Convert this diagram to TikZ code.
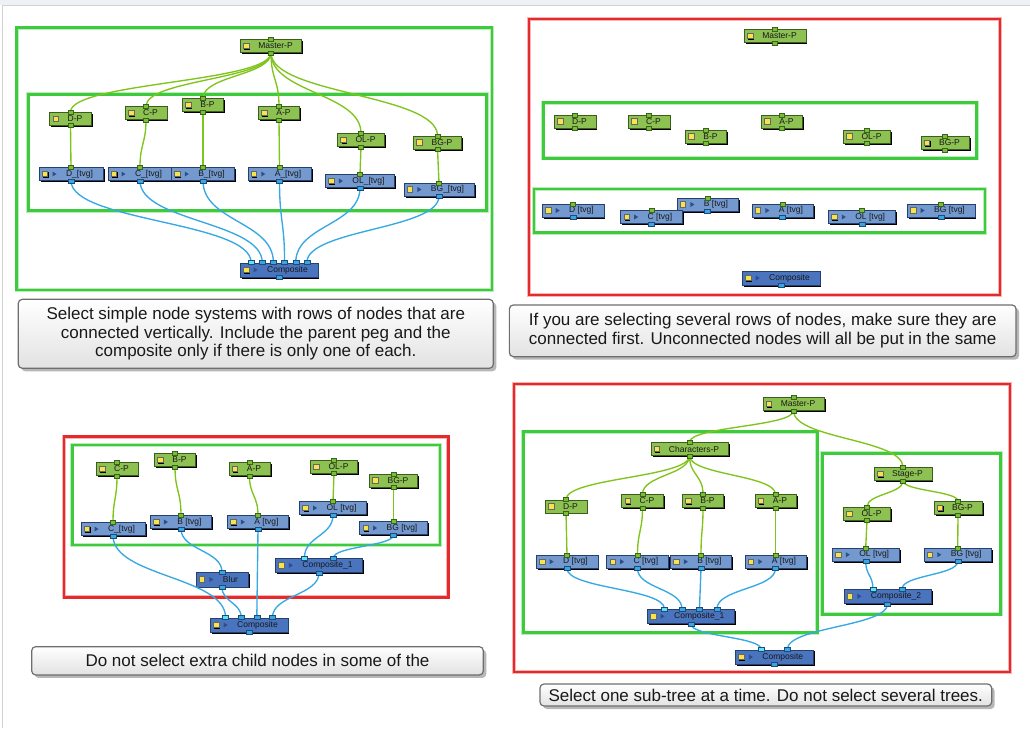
\documentclass[tikz,border=0pt]{standalone}
\usepackage{fontspec}
\setmainfont{Liberation Sans}
\usetikzlibrary{calc,shadows}
\definecolor{pegfill}{HTML}{8DC152}
\definecolor{pegdraw}{HTML}{3B5E1C}
\definecolor{readfill}{HTML}{7399CF}
\definecolor{readdraw}{HTML}{24406E}
\definecolor{compfill}{HTML}{4A74BE}
\definecolor{iconyellow}{HTML}{F7E34B}
\definecolor{tridark}{HTML}{2E4E8A}
\definecolor{gwire}{HTML}{7FC41A}
\definecolor{bwire}{HTML}{36A8E2}
\definecolor{gportfill}{HTML}{78BE38}
\definecolor{gportdraw}{HTML}{3A641A}
\definecolor{bportfill}{HTML}{3BA6DE}
\definecolor{bportdraw}{HTML}{1D4C7C}
\definecolor{cportfill}{HTML}{62E2EE}
\definecolor{frgreen}{HTML}{3DCB3D}
\definecolor{frred}{HTML}{E42A2A}
\definecolor{boxline}{HTML}{6E6E6E}
\definecolor{boxbot}{HTML}{E2E2E2}
\definecolor{topstrip}{HTML}{EEF2F6}
\definecolor{edgegray}{HTML}{D2D2D2}
\newcommand{\nodefont}{\fontsize{8.5}{9}\selectfont}
\newcommand{\tipfont}{\fontsize{17}{18.5}\selectfont}

\begin{document}
\begin{tikzpicture}[x=1pt,y=-1pt,
  nodeshadow/.style={drop shadow={shadow xshift=1.6pt,shadow yshift=-1.6pt,fill=black,opacity=1}},
  pegnode/.style={nodeshadow, draw=pegdraw, fill=pegfill, line width=.5pt, minimum height=13pt, inner sep=0pt,
    font=\nodefont, text=black!90,
    execute at begin node=\hspace*{18pt}, execute at end node=\hspace*{9pt},
    path picture={
      \fill[black] ([xshift=4pt,yshift=2pt]path picture bounding box.west) rectangle ++(5.5,5.5);
      \filldraw[fill=iconyellow,draw=black!60,line width=.3pt] ([xshift=3pt,yshift=3pt]path picture bounding box.west) rectangle ++(5.5,5.5);}},
  readnode/.style={nodeshadow, draw=readdraw, fill=readfill, line width=.5pt, minimum height=13pt, inner sep=0pt,
    font=\nodefont, text=black!90,
    execute at begin node=\hspace*{27pt}, execute at end node=\hspace*{10pt},
    path picture={
      \fill[black] ([xshift=4pt,yshift=2pt]path picture bounding box.west) rectangle ++(5.5,5.5);
      \filldraw[fill=iconyellow,draw=black!60,line width=.3pt] ([xshift=3pt,yshift=3pt]path picture bounding box.west) rectangle ++(5.5,5.5);
      \fill[tridark] ([xshift=13.5pt,yshift=2.5pt]path picture bounding box.west) -- ++(4,2.5) -- ++(-4,2.5) -- cycle;}},
  compnode/.style={readnode, fill=compfill, minimum height=14.5pt},
  gline/.style={gwire, line width=1.35pt},
  bline/.style={bwire, line width=1.35pt},
  gport/.style={fill=gportfill, draw=gportdraw, line width=.4pt},
  bport/.style={fill=bportfill, draw=bportdraw, line width=.4pt},
  cport/.style={fill=cportfill, draw=bportdraw, line width=.4pt},
  gframe/.style={draw=frgreen, line width=2.6pt, preaction={draw=frgreen!35, line width=4.2pt}},
  rframe/.style={draw=frred, line width=2.6pt, preaction={draw=frred!35, line width=4.2pt}},
  tipbox/.style={draw=boxline, line width=1.2pt, rounded corners=4pt, top color=white, bottom color=boxbot,
    align=center, font=\tipfont, text=black!90, inner sep=0pt,
    drop shadow={shadow xshift=3pt,shadow yshift=-3pt,fill=black!40,opacity=.7}}]
\useasboundingbox (0,0) rectangle (1030,728);
% window edge
\fill[topstrip] (0,0) rectangle (1030,5);
\draw[edgegray, line width=1.5pt] (1030,5.5) -- (2.5,5.5) -- (2.5,728);

% selection frames
\draw[gframe] (16.7,27.7) rectangle (492,290);
\draw[gframe] (28.3,94.3) rectangle (486.7,210.7);
\draw[rframe] (529,19) rectangle (1000,295);
\draw[gframe] (543.3,102.7) rectangle (976.7,158.3);
\draw[gframe] (534,189) rectangle (985,232.7);
\draw[rframe] (64,436.7) rectangle (448.3,597.3);
\draw[gframe] (72.3,445) rectangle (440,545);
\draw[rframe] (514,384) rectangle (1010,672);
\draw[gframe] (523.3,431.7) rectangle (817.3,632.7);
\draw[gframe] (822.3,453.3) rectangle (1000.7,614.3);

% pegs
\foreach \n/\x/\y/\t in {aM/271/46/Master-P, aDP/70.5/118.7/D-P, aCP/146/113/C-P, aBP/203/105/B-P,
    aAP/279/113/A-P, aOLP/361/140/OL-P, aBGP/437.5/142.5/BG-P,
    bM/775/36/Master-P, bDP/575/121.5/D-P, bCP/649/121.5/C-P, bBP/706/136.5/B-P,
    bAP/782/121.5/A-P, bOLP/867/136.5/OL-P, bBGP/945/143/BG-P,
    cCP/117/469/C-P, cBP/175/460/B-P, cAP/249.5/469/A-P, cOLP/334/466.7/OL-P, cBGP/393.5/480.5/BG-P,
    dM/793.5/404/Master-P, dChar/689.5/449/Characters-P, dStage/903/474/Stage-P,
    dDP/566/506.3/D-P, dCP/642.5/501/C-P, dBP/703/501/B-P, dAP/775.5/501/A-P,
    dOLP/867/513.7/OL-P, dBGP/958/508/BG-P}
  \node[pegnode] (\n) at (\x,\y) {\t};

% drawings
\foreach \n/\x/\y/\t in {aDr/71/174/{D\_[tvg]}, aCr/140/174/{C\_[tvg]}, aBr/203/174/{B\_[tvg]},
    aAr/279.5/174/{A\_[tvg]}, aOLr/360/181/{OL\_[tvg]}, aBGr/439/189.5/{BG\_[tvg]},
    bDr/573/210.5/{D [tvg]}, bBr/707.5/204.5/{B [tvg]}, bCr/651.5/217/{C [tvg]},
    bAr/782.5/210.5/{A [tvg]}, bOLr/861.7/217/{OL [tvg]}, bBGr/941/210.5/{BG [tvg]},
    cCr/113/529/{C\_[tvg]}, cBr/181/522/{B [tvg]}, cAr/258/522/{A [tvg]},
    cOLr/333/508/{OL [tvg]}, cBGr/393.5/528/{BG [tvg]},
    dDr/567/561.7/{D [tvg]}, dCr/637.5/561.7/{C [tvg]}, dBr/701/561.7/{B [tvg]},
    dAr/775.5/561.7/{A [tvg]}, dOLr/865.7/554.7/{OL [tvg]}, dBGr/957.7/554.7/{BG [tvg]}}
  \node[readnode] (\n) at (\x,\y) {\t};

% composites and effects
\foreach \n/\x/\y/\t in {aComp/279/270/Composite, bComp/781/278/Composite,
    cComp1/319/565.3/{Composite\_1}, cBlur/222/579.5/Blur, cComp/249/625/Composite,
    dComp1/690.7/616.3/{Composite\_1}, dComp2/887.5/596.3/{Composite\_2}, dComp/774.3/657/Composite}
  \node[compnode] (\n) at (\x,\y) {\t};

% peg wires
\foreach \a/\b in {aM/aDP, aM/aCP, aM/aBP, aM/aAP, aM/aOLP, aM/aBGP,
    aDP/aDr, aCP/aCr, aBP/aBr, aAP/aAr, aOLP/aOLr, aBGP/aBGr,
    cCP/cCr, cBP/cBr, cAP/cAr, cOLP/cOLr, cBGP/cBGr,
    dM/dChar, dM/dStage, dChar/dDP, dChar/dCP, dChar/dBP, dChar/dAP, dStage/dOLP, dStage/dBGP,
    dDP/dDr, dCP/dCr, dBP/dBr, dAP/dAr, dOLP/dOLr, dBGP/dBGr} {
  \path ($(\a.south)!.5!(\b.north)$) coordinate (m);
  \draw[gline] (\a.south) .. controls (\a.south |- m) and (\b.north |- m) .. (\b.north);
}

% image wires, into port i of k
\foreach \a/\b/\i/\k in {aDr/aComp/1/6, aCr/aComp/2/6, aBr/aComp/3/6, aAr/aComp/4/6, aOLr/aComp/5/6, aBGr/aComp/6/6,
    cBr/cBlur/1/1, cOLr/cComp1/1/2, cBGr/cComp1/2/2,
    cCr/cComp/1/4, cBlur/cComp/2/4, cAr/cComp/3/4, cComp1/cComp/4/4,
    dDr/dComp1/1/4, dCr/dComp1/2/4, dBr/dComp1/3/4, dAr/dComp1/4/4,
    dOLr/dComp2/1/2, dBGr/dComp2/2/2, dComp1/dComp/1/2, dComp2/dComp/2/2} {
  \pgfmathsetmacro\fr{\i/(\k+1)}
  \path ($(\b.north west)!\fr!(\b.north east)$) coordinate (e) ($(\a.south)!.5!(e)$) coordinate (m);
  \draw[bline] (\a.south) .. controls (\a.south |- m) and (e |- m) .. (e);
}

% ports
\foreach \n in {aM,aDP,aCP,aBP,aAP,aOLP,aBGP, bM,bDP,bCP,bBP,bAP,bOLP,bBGP,
    cCP,cBP,cAP,cOLP,cBGP, dM,dChar,dStage,dDP,dCP,dBP,dAP,dOLP,dBGP} {
  \path[gport] (\n.north) +(-2.5,-2) rectangle +(2.5,2);
  \path[gport] (\n.south) +(-2.5,-2) rectangle +(2.5,2);
}
\foreach \n in {aDr,aCr,aBr,aAr,aOLr,aBGr, bDr,bCr,bBr,bAr,bOLr,bBGr,
    cCr,cBr,cAr,cOLr,cBGr, dDr,dCr,dBr,dAr,dOLr,dBGr} {
  \path[gport] (\n.north) +(-2.5,-2) rectangle +(2.5,2);
  \path[bport] (\n.south) +(-3,-2) rectangle +(3,2);
}
\foreach \n in {aComp,bComp,cComp1,cBlur,cComp,dComp1,dComp2,dComp}
  \path[bport] (\n.south) +(-3,-2) rectangle +(3,2);
\foreach \n/\k in {aComp/6, cComp1/2, cBlur/1, cComp/4, dComp1/4, dComp2/2, dComp/2}
  \foreach \i in {1,...,\k} {
    \pgfmathsetmacro\fr{\i/(\k+1)}
    \path[bport] ($(\n.north west)!\fr!(\n.north east)$) +(-3,-2) rectangle +(3,2);
  }
\foreach \n/\k in {aComp/6, cComp1/2, cComp/4, dComp1/4, dComp2/2, dComp/2} {
  \pgfmathsetmacro\fr{1/(\k+1)}
  \path[cport] ($(\n.north west)!\fr!(\n.north east)$) +(-3,-2) rectangle +(3,2);
}

% captions
\node[tipbox, minimum width=475pt, minimum height=69pt] (tipA) at (255.8,333.8)
  {Select simple node systems with rows of nodes that are\\connected vertically. Include the parent peg and the\\composite only if there is only one of each.};
\node[tipbox, minimum width=506.7pt, minimum height=51.7pt] (tipB) at (762.7,330.8)
  {If you are selecting several rows of nodes, make sure they are\\connected first. Unconnected nodes will all be put in the same};
\node[tipbox, minimum width=451.6pt, minimum height=28.3pt] (tipC) at (257.5,660.8)
  {Do not select extra child nodes in some of the};
\node[tipbox, minimum width=451.7pt, minimum height=22pt] (tipD) at (765.8,695)
  {Select one sub-tree at a time. Do not select several trees.};
\end{tikzpicture}
\end{document}
